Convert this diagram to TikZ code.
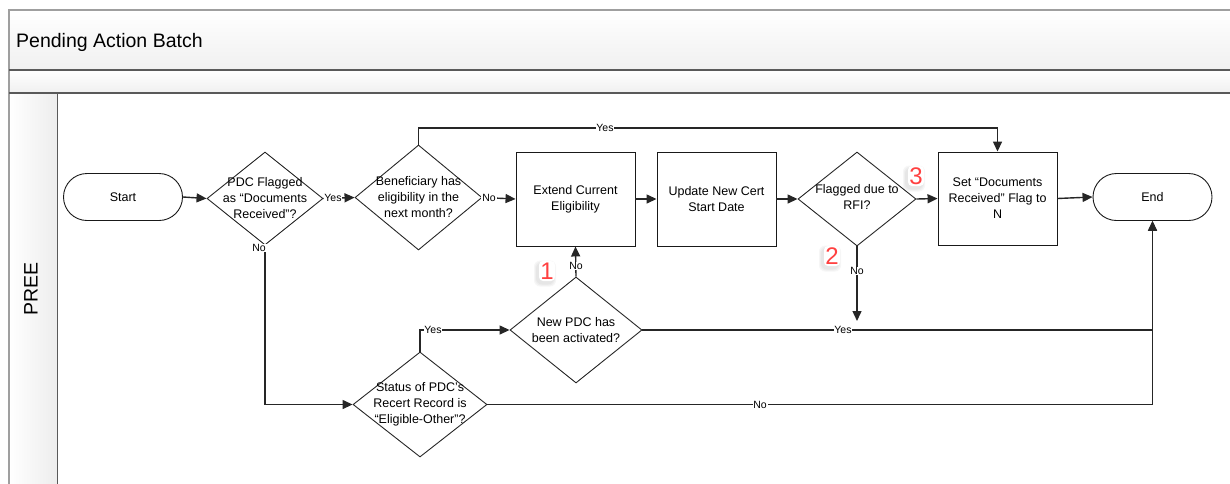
\documentclass[tikz,border=0pt]{standalone}
\usepackage{fontspec}
\setmainfont{Liberation Sans}
\usetikzlibrary{shapes.geometric,arrows.meta}

\begin{document}
\begin{tikzpicture}[x=1pt,y=-1pt,
  txt/.style={font=\fontsize{12.5}{16}\selectfont, align=center, inner sep=0pt},
  box/.style={draw=black!90, line width=0.9pt, minimum width=119, minimum height=94, inner sep=0pt, txt},
  term/.style={draw=black!90, line width=0.9pt, rounded corners=23.5, minimum width=119, minimum height=47, inner sep=0pt, txt},
  dia/.style={draw=black!85, line width=0.9pt, diamond, inner sep=0pt},
  flow/.style={line width=1.4pt, draw=black!85, -{Triangle[length=10pt,width=9pt]}},
  lbl/.style={font=\fontsize{10.5}{10.5}\selectfont, fill=white, inner sep=0.8pt},
  badge/.style={font=\fontsize{24}{24}\selectfont, text=red!75!white, inner sep=0pt},
  badgebg/.style={fill=white, rounded corners=4pt, minimum width=16, minimum height=20, inner sep=0pt},
  haze/.style={fill=gray, opacity=0.07, rounded corners=6pt, inner sep=0pt}
]
\useasboundingbox (0,0) rectangle (1230,483);

% pool header and lane frame
\shade[top color=white, bottom color=gray!12] (9,10) rectangle (1232,70);
\shade[top color=white, bottom color=gray!12] (9,70) rectangle (1232,93);
\shade[left color=white, right color=gray!14] (9,93) rectangle (57,485);
\draw[gray!75, line width=1.2pt] (1232,10) -- (9,10) -- (9,485);
\draw[black!65, line width=1.4pt] (9,70) -- (1232,70);
\draw[black!65, line width=1.4pt] (9,93) -- (1232,93);
\draw[black!65, line width=0.8pt] (57,93) -- (57,485);
\node[anchor=base west, font=\fontsize{19.5}{20}\selectfont, inner sep=0pt] (title) at (16,47) {Pending Action Batch};
\node[rotate=90, font=\fontsize{19.5}{20}\selectfont, inner sep=0pt] (lane) at (31,289) {PREE};

% flow nodes
\node[term] (start) at (123,197) {Start};
\node[dia, minimum width=116, minimum height=93] (d1) at (265,198.5) {};
\node[txt] (d1t) at (d1) {PDC Flagged\\as “Documents\\Received”?};
\node[dia, minimum width=127, minimum height=105] (d2) at (418.5,197.5) {};
\node[txt] (d2t) at (d2) {Beneficiary has\\eligibility in the\\next month?};
\node[box] (extend) at (575.5,199) {Extend Current\\Eligibility};
\node[box] (update) at (716.5,199) {Update New Cert\\Start Date};
\node[dia, minimum width=118, minimum height=94] (d3) at (857,199) {};
\node[txt] (d3t) at (857,197) {Flagged due to\\RFI?};
\node[box, minimum height=93] (setb) at (997.5,198.5) {Set “Documents\\Received” Flag to\\N};
\node[term] (end) at (1152.5,197) {End};
\node[dia, minimum width=132, minimum height=106] (d4) at (576,330) {};
\node[txt] (d4t) at (d4) {New PDC has\\been activated?};
\node[dia, minimum width=134, minimum height=105] (d5) at (420,404.5) {};
\node[txt] (d5t) at (d5) {Status of PDC’s\\Recert Record is\\“Eligible-Other”?};

% helper coordinates for routed connectors
\coordinate (topy) at (0,128);
\coordinate (d3stop) at (857,321);

% connectors
\draw[flow] (start.east) -- (d1.west);
\draw[flow] (d1.east) -- (d2.west);
\draw[flow] (d2.east) -- (extend.west);
\draw[flow] (extend.east) -- (update.west);
\draw[flow] (update.east) -- (d3.west);
\draw[flow] (d3.east) -- (setb.west);
\draw[flow] (setb.east) -- (end.west);
\draw[flow] (d2.north) -- (d2.north |- topy) -- (topy -| setb.north) -- (setb.north);
\draw[flow] (d3.south) -- (d3stop);
\draw[flow] (d4.north) -- (extend.south);
\draw[flow] (d4.east) -| (end.south);
\draw[flow] (d1.south) |- (d5.west);
\draw[flow] (d5.north) |- (d4.west);
\draw[flow] (d5.east) -| (end.south);

% connector labels
\node[lbl] (y1) at (333,198) {Yes};
\node[lbl] (n1) at (489,198) {No};
\node[lbl] (y2) at (605,128) {Yes};
\node[lbl] (n2) at (259,248) {No};
\node[lbl] (n3) at (576,266) {No};
\node[lbl] (n4) at (857,271) {No};
\node[lbl] (y3) at (433,330) {Yes};
\node[lbl] (y4) at (843,330) {Yes};
\node[lbl] (n5) at (760,404.5) {No};

% numbered callouts, each on a white tag with a soft shadow
\foreach \n/\cx/\cy in {1/547/271, 2/832/256, 3/916/176}{
  \foreach \s in {0,2,4}{
    \node[haze, minimum width=18+\s, minimum height=22+\s] (h\n\s) at (\cx-2,\cy+2.5) {};
  }
  \node[badgebg] (g\n) at (\cx,\cy) {};
  \node[badge] (b\n) at (\cx,\cy) {\n};
}
\end{tikzpicture}
\end{document}
